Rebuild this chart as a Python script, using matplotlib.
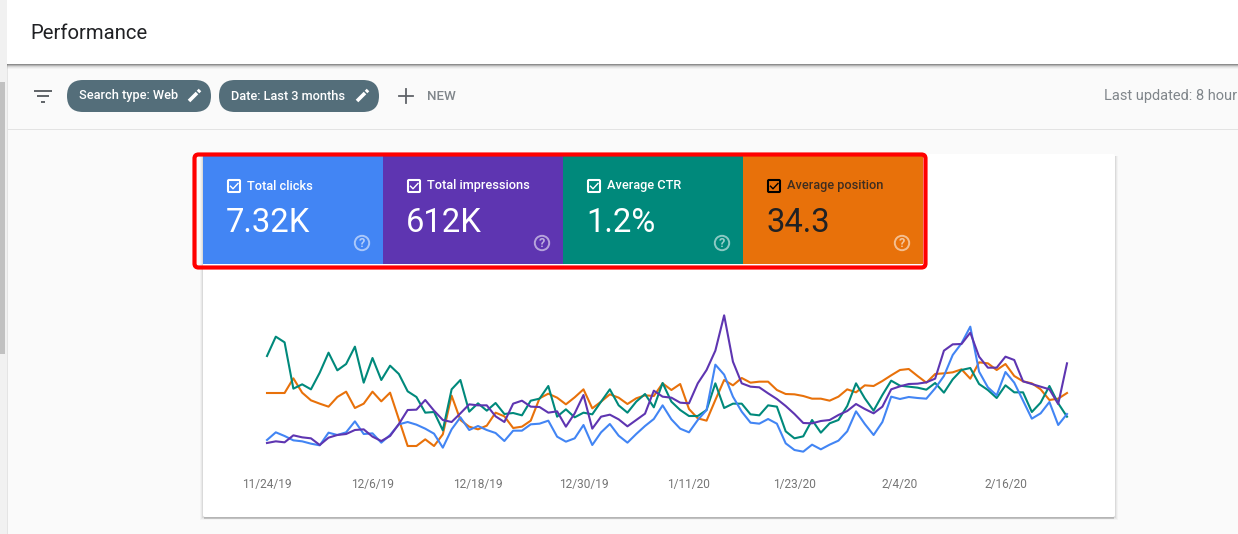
import matplotlib
matplotlib.use("Agg")
import matplotlib.pyplot as plt
from matplotlib.patches import Rectangle, FancyBboxPatch, Circle
import numpy as np

plt.rcParams['font.family'] = ['Roboto', 'DejaVu Sans']

# Daily values (relative units, the chart has no y axis)
clicks = [90,113,102,89,86,79,74,112,105,113,146,108,110,82,105,137,144,136,124,109,67,122,158,120,132,120,111,87,118,118,
          137,139,148,100,85,95,135,75,113,138,103,82,108,132,153,194,152,124,113,150,180,316,286,220,175,142,139,153,139,80,60,
          55,76,62,76,88,116,176,138,105,144,220,213,219,216,214,245,282,345,380,430,295,248,224,294,262,208,154,170,204,135,168]
impressions = [81,86,83,104,98,95,75,97,105,108,120,122,100,87,102,138,180,181,210,178,150,144,170,197,194,194,161,144,199,208,
               190,189,172,176,130,170,225,124,160,166,152,131,150,169,238,220,217,202,200,260,300,358,464,325,260,250,248,230,213,192,168,
               141,140,147,150,165,177,198,183,170,190,242,251,258,259,263,274,358,377,378,412,340,307,307,340,330,266,258,250,242,198,320]
ctr = [342,400,383,244,257,242,292,352,299,318,370,262,336,270,313,288,236,219,172,174,119,242,270,175,200,178,201,168,171,164,
       208,214,252,160,182,158,172,167,205,242,194,172,205,228,188,261,205,180,162,162,180,260,186,199,199,167,164,194,190,116,95,
       101,150,112,140,150,192,260,215,178,225,268,253,250,247,241,261,232,272,300,306,258,240,216,254,233,233,174,202,252,200,160]
position = [231,231,231,275,232,209,199,190,219,235,186,199,235,206,232,152,72,72,92,72,107,223,150,130,122,133,172,161,126,130,
            148,215,229,217,197,218,242,185,205,227,217,198,215,224,222,260,240,258,183,155,148,210,270,254,276,262,265,265,240,228,227,
            222,214,214,208,220,242,233,254,252,267,284,300,303,282,262,288,290,293,302,274,323,320,300,318,282,266,260,242,210,214,231]

date_labels = ['11/24/19', '12/6/19', '12/18/19', '12/30/19', '1/11/20', '1/23/20', '2/4/20', '2/16/20']
tile_names = ['Total clicks', 'Total impressions', 'Average CTR', 'Average position']
tile_values = ['7.32K', '612K', '1.2%', '34.3']

BLUE, PURPLE, TEAL, ORANGE = '#4285f4', '#5e35b1', '#00897b', '#e8710a'
tile_colors = [BLUE, PURPLE, TEAL, ORANGE]
W, H = 1238, 534

fig = plt.figure(figsize=(W / 100, H / 100), dpi=100, facecolor='#fafafa')

# page furniture is drawn in pixel coordinates
ui = fig.add_axes([0, 0, 1, 1])
ui.set_xlim(0, W)
ui.set_ylim(H, 0)
ui.axis('off')


def box(x0, y0, x1, y1, color, z=1, alpha=1):
    ui.add_patch(Rectangle((x0, y0), x1 - x0, y1 - y0, fc=color, ec='none', zorder=z, alpha=alpha))


def pencil(x, y):
    ui.plot([x - 5, x + 3], [y + 5, y - 3], color='white', lw=2.6, solid_capstyle='butt', zorder=6)
    ui.plot([x + 4, x + 6], [y - 4, y - 6], color='white', lw=2.6, solid_capstyle='butt', zorder=6)


def checkbox(x, y, color):
    ui.add_patch(FancyBboxPatch((x + 1, y), 12, 12, boxstyle='round,pad=0,rounding_size=1',
                                fc='none', ec=color, lw=1.5, zorder=6))
    ui.plot([x + 3.5, x + 6, x + 11], [y + 6.2, y + 8.8, y + 3.4], color=color, lw=1, zorder=6)


# left strip, scrollbar
box(0, 0, 7, H, '#f1f1f1', 1)
box(6.5, 0, 7.5, H, '#e4e4e4', 1)
box(0, 82, 5, 354, '#c1c1c1', 2)
box(7, 128.5, W, 130, '#e3e3e3', 2)

# header with shadow
for i, a in enumerate([0.6, 0.38, 0.2, 0.1, 0.04]):
    box(7, 64 + i, W, 65 + i, '#444444', 2, a)
box(7, 0, W, 64, '#ffffff', 3)
ui.text(30.5, 33.5, 'Performance', fontsize=14.6, color='#202124', va='center', zorder=5)

# filter icon
for x0, x1, y in [(34, 52, 90.5), (37, 49, 96), (41, 45, 101.5)]:
    ui.plot([x0, x1], [y, y], color='#5f6368', lw=1.4, solid_capstyle='butt', zorder=5)

# filter chips
for x0, x1, label in [(67, 211, 'Search type: Web'), (219, 379, 'Date: Last 3 months')]:
    ui.add_patch(FancyBboxPatch((x0 + 16, 80 + 16), x1 - x0 - 32, 0, boxstyle='round,pad=16,rounding_size=16',
                                fc='#546e7a', ec='none', zorder=4))
    ui.text(x0 + 12, 96, label, fontsize=9.2, color='white', weight='medium', va='center', zorder=5)
    pencil(x1 - 17, 96)

ui.plot([399, 413], [96, 96], color='#5f6368', lw=1.3, zorder=5)
ui.plot([406, 406], [89, 103], color='#5f6368', lw=1.3, zorder=5)
ui.text(427, 96, 'NEW', fontsize=9.6, color='#80868b', weight='medium', va='center', zorder=5)
ui.text(1104, 96, 'Last updated: 8 hour', fontsize=10.5, color='#80868b', va='center', zorder=5)

# card with shadow, heavier along the bottom edge
for i, a in zip([3, 2, 1], [0.03, 0.05, 0.08]):
    box(203 - i, 156, 1115 + i, 517 + i, '#333333', 2, a)
box(204, 516, 1114, 519, '#333333', 2, 0.22)
ui.add_patch(FancyBboxPatch((204, 155), 910, 361, boxstyle='round,pad=1,rounding_size=2',
                            fc='#ffffff', ec='none', zorder=3))

# metric tiles
for i, (name, value, color) in enumerate(zip(tile_names, tile_values, tile_colors)):
    x0 = 203 + 180 * i
    box(x0, 155, x0 + 180, 264, color, 4)
    fg = 'white' if i < 3 else '#202124'
    checkbox(x0 + 24, 180, 'white' if i < 3 else 'black')
    ui.text(x0 + 44, 186, name, fontsize=9.2, color=fg, weight='medium', va='center', zorder=5,
            alpha=1 if i < 3 else 0.85)
    ui.text(x0 + 23, 223, value, fontsize=23.6, color=fg, va='center', zorder=5)
    ui.add_patch(Circle((x0 + 159, 243), 7.2, fc='none', ec='white', lw=1.4, alpha=0.55, zorder=5))
    ui.text(x0 + 159, 243.5, '?', fontsize=9, weight='bold', color='white', alpha=0.6,
            ha='center', va='center', zorder=5)

# red highlight round the tiles
ui.add_patch(FancyBboxPatch((198, 158), 724, 106, boxstyle='round,pad=3.5,rounding_size=4',
                            fc='none', ec='#ff0000', lw=3, zorder=7))

# the chart itself
ax = fig.add_axes([267 / W, 1 - 470 / H, 800 / W, 170 / H])
ax.patch.set_alpha(0)
days = np.arange(len(clicks))
ax.plot(days, position, color=ORANGE, lw=1.5, zorder=2, clip_on=False)
ax.plot(days, ctr, color=TEAL, lw=1.5, zorder=3, clip_on=False)
ax.plot(days, clicks, color=BLUE, lw=1.5, zorder=4, clip_on=False)
ax.plot(days, impressions, color=PURPLE, lw=1.5, zorder=5, clip_on=False)
ax.set_xlim(0, 91)
ax.set_ylim(0, 510)
ax.set_yticks([])
ax.set_xticks(np.arange(len(date_labels)) * 12)
ax.set_xticklabels(date_labels, fontsize=8.6, color='#757575')
ax.tick_params(axis='x', length=0, pad=6)
for s in ax.spines.values():
    s.set_visible(False)

fig.savefig('out.png', dpi=100, facecolor=fig.get_facecolor())
